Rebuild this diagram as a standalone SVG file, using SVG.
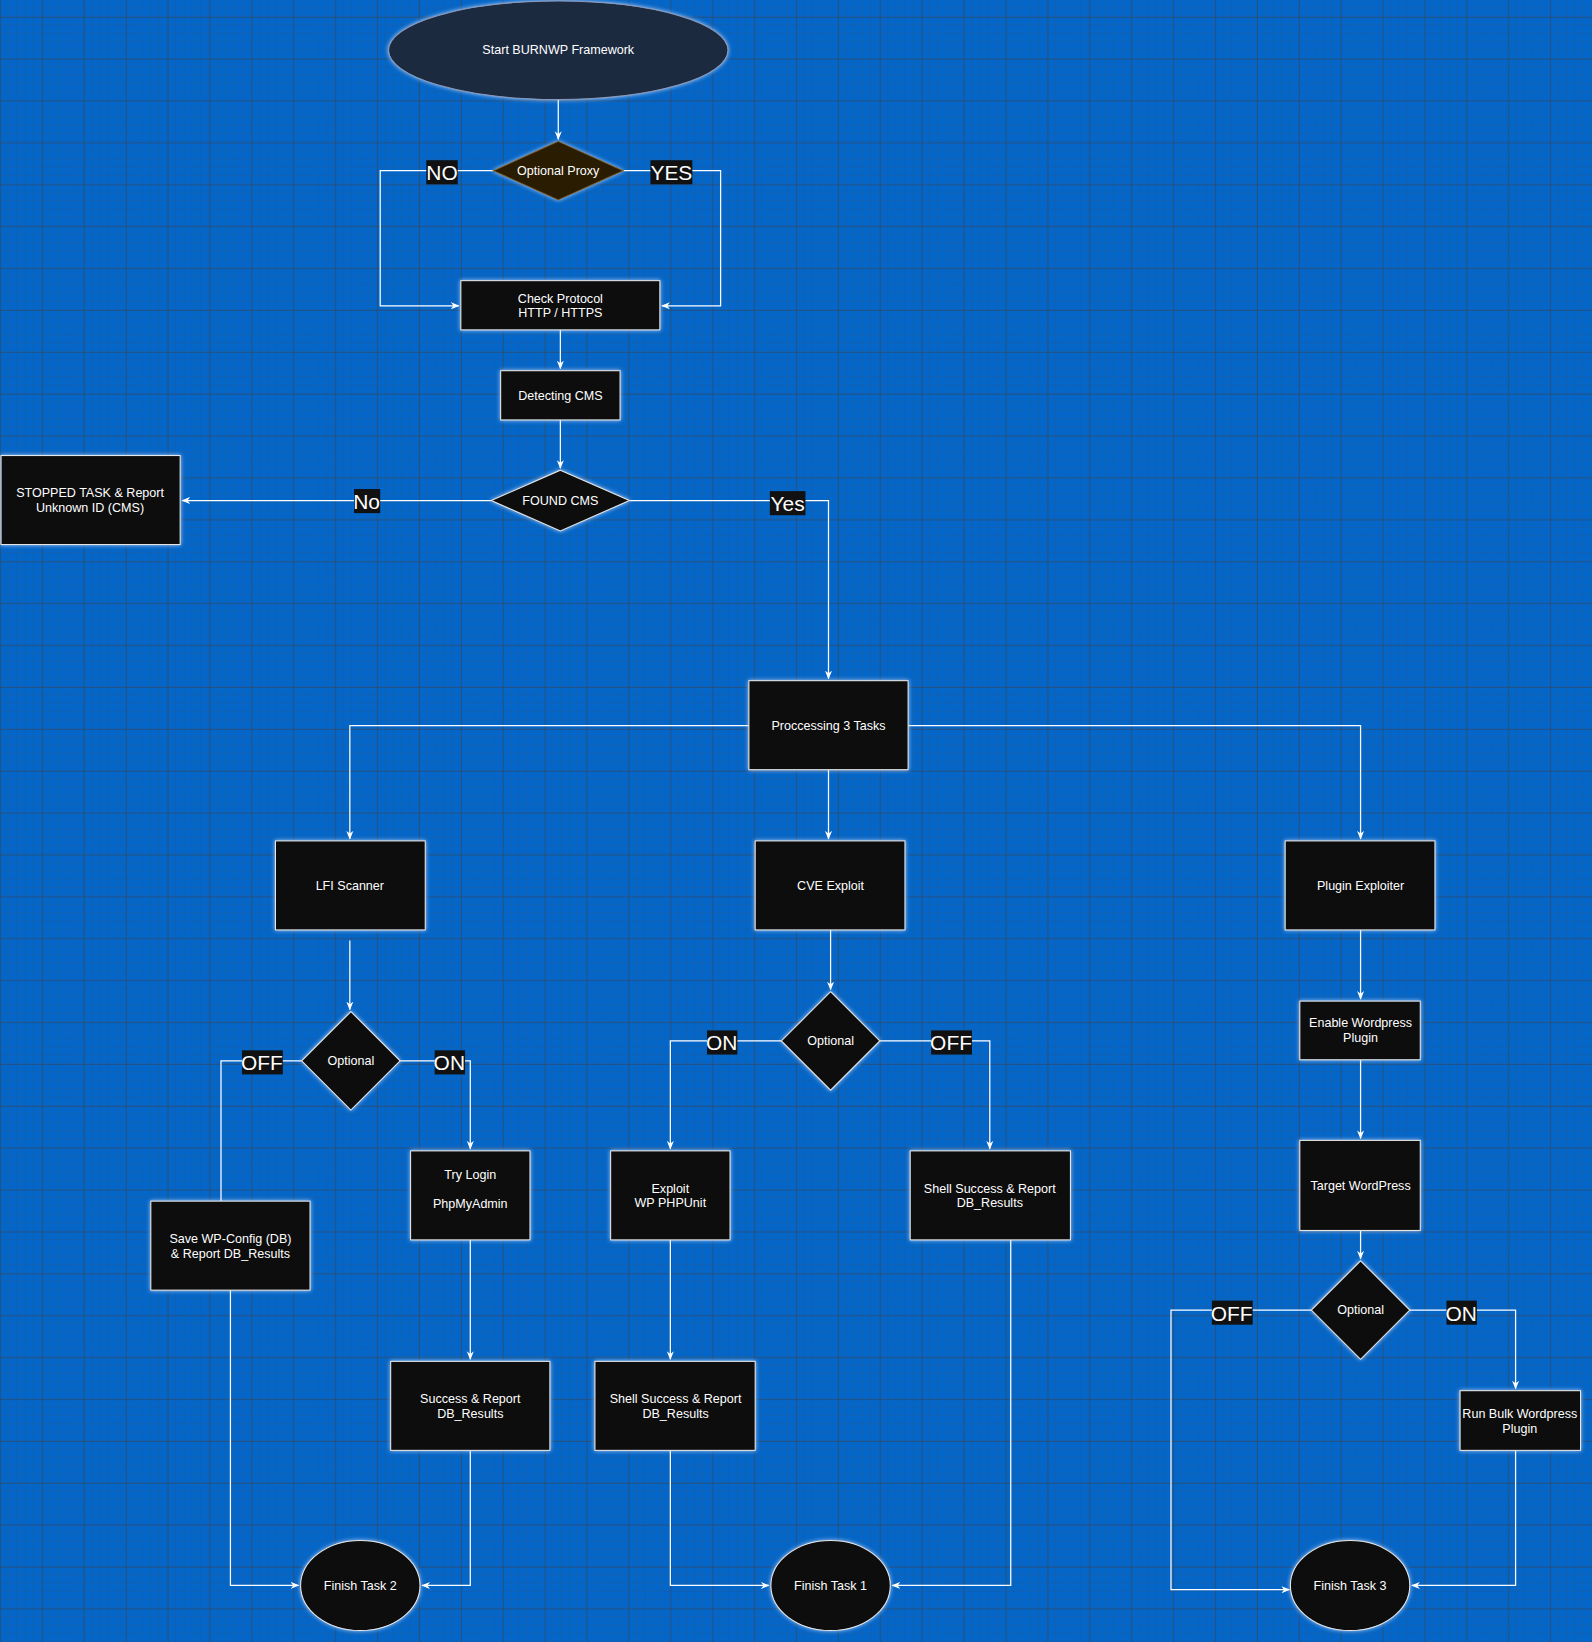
<svg xmlns="http://www.w3.org/2000/svg" width="1592" height="1642" viewBox="0 0 1592 1642">
<defs>
<pattern id="minor" width="8" height="8" patternUnits="userSpaceOnUse"><path d="M8 0V8H0" fill="none" stroke="#3a4f6a" stroke-width="0.4"/></pattern>
<pattern id="major" width="40" height="40" patternUnits="userSpaceOnUse" x="1" y="17"><path d="M40 0V40H0" fill="none" stroke="#3a3f48" stroke-width="0.9"/></pattern>
<marker id="a" viewBox="0 0 10 10" refX="9" refY="5" markerWidth="7" markerHeight="7" orient="auto"><path d="M0 1L10 5L0 9L3 5Z" fill="#fff"/></marker>
<filter id="g" x="-20%" y="-20%" width="140%" height="140%"><feDropShadow dx="0" dy="0" stdDeviation="2" flood-color="#cfe0ff" flood-opacity="0.8"/></filter>
</defs>
<style>
.n{fill:#111;stroke:#e8e8e8;stroke-width:1;filter:url(#g)}
.t{font-family:"Liberation Sans",Arial,sans-serif;font-size:12px;fill:#fff;text-anchor:middle}
.c path{fill:none;stroke:#fff;stroke-width:1.2}
.l rect{fill:#111}
.l text{font-family:"Liberation Sans",Arial,sans-serif;font-size:20px;fill:#fff;text-anchor:middle}
</style>
<rect width="1592" height="1642" fill="#0466c8"/>
<g transform="scale(1.0474,1.0472)">
<rect width="1520" height="1568" fill="url(#minor)"/>
<rect width="1520" height="1568" fill="url(#major)"/>
<g id="connectors" class="c">
<path d="M533 95V133" marker-end="url(#a)"/>
<path d="M471 163H363V292H438" marker-end="url(#a)"/>
<path d="M595 163H688V292H632" marker-end="url(#a)"/>
<path d="M535 315V352" marker-end="url(#a)"/>
<path d="M535 401V447" marker-end="url(#a)"/>
<path d="M469 478H174" marker-end="url(#a)"/>
<path d="M601 478H791V648" marker-end="url(#a)"/>
<path d="M715 693H334V801" marker-end="url(#a)"/>
<path d="M791 735V801" marker-end="url(#a)"/>
<path d="M867 693H1299V801" marker-end="url(#a)"/>
<path d="M334 898V964" marker-end="url(#a)"/>
<path d="M288 1013H211V1147"/>
<path d="M382 1013H449V1097" marker-end="url(#a)"/>
<path d="M449 1184V1298" marker-end="url(#a)"/>
<path d="M220 1232V1514H285" marker-end="url(#a)"/>
<path d="M449 1385V1514H403" marker-end="url(#a)"/>
<path d="M793 888V945" marker-end="url(#a)"/>
<path d="M746 994H640V1097" marker-end="url(#a)"/>
<path d="M840 994H945V1097" marker-end="url(#a)"/>
<path d="M640 1184V1298" marker-end="url(#a)"/>
<path d="M640 1385V1514H734" marker-end="url(#a)"/>
<path d="M965 1184V1514H852" marker-end="url(#a)"/>
<path d="M1299 888V954" marker-end="url(#a)"/>
<path d="M1299 1012V1087" marker-end="url(#a)"/>
<path d="M1299 1175V1202" marker-end="url(#a)"/>
<path d="M1252 1251H1118V1518H1231" marker-end="url(#a)"/>
<path d="M1346 1251H1447V1326" marker-end="url(#a)"/>
<path d="M1447 1385V1514H1348" marker-end="url(#a)"/>
</g>
<g class="l">
<rect x="407" y="153" width="30" height="23"/><text x="422" y="172">NO</text>
<rect x="621" y="153" width="40" height="23"/><text x="641" y="172">YES</text>
<rect x="338" y="467" width="25" height="23"/><text x="350" y="486">No</text>
<rect x="735" y="469" width="34" height="23"/><text x="752" y="488">Yes</text>
<rect x="231" y="1003" width="39" height="23"/><text x="250" y="1022">OFF</text>
<rect x="415" y="1003" width="29" height="23"/><text x="429" y="1022">ON</text>
<rect x="675" y="984" width="29" height="23"/><text x="689" y="1003">ON</text>
<rect x="889" y="984" width="39" height="23"/><text x="908" y="1003">OFF</text>
<rect x="1157" y="1242" width="39" height="23"/><text x="1176" y="1261">OFF</text>
<rect x="1381" y="1242" width="29" height="23"/><text x="1395" y="1261">ON</text>
</g>
<g id="start"><ellipse cx="533" cy="48" rx="162" ry="47" fill="#1e2940" stroke="#8899bb" style="filter:url(#g)"/><text class="t" x="533" y="52">Start BURNWP Framework</text></g>
<g id="proxy"><path d="M533 135L595 163L533 191L471 163Z" fill="#2b1f00" stroke="#7a5a10" style="filter:url(#g)"/><text class="t" x="533" y="167">Optional Proxy</text></g>
<g id="protocol"><rect class="n" x="440" y="268" width="190" height="47"/><text class="t" x="535" y="289">Check Protocol</text><text class="t" x="535" y="303">HTTP / HTTPS</text></g>
<g id="detect"><rect class="n" x="478" y="354" width="114" height="47"/><text class="t" x="535" y="382">Detecting CMS</text></g>
<g id="found"><path class="n" d="M535 449L601 478L535 507L469 478Z"/><text class="t" x="535" y="482">FOUND CMS</text></g>
<g id="stopped"><rect class="n" x="1" y="435" width="171" height="85"/><text class="t" x="86" y="475">STOPPED TASK &amp; Report</text><text class="t" x="86" y="489">Unknown ID (CMS)</text></g>
<g id="processing"><rect class="n" x="715" y="650" width="152" height="85"/><text class="t" x="791" y="697">Proccessing 3 Tasks</text></g>
<g id="lfi"><rect class="n" x="263" y="803" width="143" height="85"/><text class="t" x="334" y="850">LFI Scanner</text></g>
<g id="cve"><rect class="n" x="721" y="803" width="143" height="85"/><text class="t" x="793" y="850">CVE Exploit</text></g>
<g id="plugin"><rect class="n" x="1227" y="803" width="143" height="85"/><text class="t" x="1299" y="850">Plugin Exploiter</text></g>
<g id="opt1"><path class="n" d="M335 966L382 1013L335 1060L288 1013Z"/><text class="t" x="335" y="1017">Optional</text></g>
<g id="opt2"><path class="n" d="M793 947L840 994L793 1041L746 994Z"/><text class="t" x="793" y="998">Optional</text></g>
<g id="opt3"><path class="n" d="M1299 1204L1346 1251L1299 1298L1252 1251Z"/><text class="t" x="1299" y="1255">Optional</text></g>
<g id="enable"><rect class="n" x="1241" y="956" width="115" height="56"/><text class="t" x="1299" y="981">Enable Wordpress</text><text class="t" x="1299" y="995">Plugin</text></g>
<g id="target"><rect class="n" x="1241" y="1089" width="115" height="86"/><text class="t" x="1299" y="1136">Target WordPress</text></g>
<g id="savewp"><rect class="n" x="144" y="1147" width="152" height="85"/><text class="t" x="220" y="1187">Save WP-Config (DB)</text><text class="t" x="220" y="1201">&amp; Report DB_Results</text></g>
<g id="trylogin"><rect class="n" x="392" y="1099" width="114" height="85"/><text class="t" x="449" y="1126">Try Login</text><text class="t" x="449" y="1154">PhpMyAdmin</text></g>
<g id="phpunit"><rect class="n" x="583" y="1099" width="114" height="85"/><text class="t" x="640" y="1139">Exploit</text><text class="t" x="640" y="1153">WP PHPUnit</text></g>
<g id="shell2"><rect class="n" x="869" y="1099" width="153" height="85"/><text class="t" x="945" y="1139">Shell Success &amp; Report</text><text class="t" x="945" y="1153">DB_Results</text></g>
<g id="success"><rect class="n" x="373" y="1300" width="152" height="85"/><text class="t" x="449" y="1340">Success &amp; Report</text><text class="t" x="449" y="1354">DB_Results</text></g>
<g id="shell1"><rect class="n" x="568" y="1300" width="153" height="85"/><text class="t" x="645" y="1340">Shell Success &amp; Report</text><text class="t" x="645" y="1354">DB_Results</text></g>
<g id="bulk"><rect class="n" x="1394" y="1328" width="115" height="57"/><text class="t" x="1451" y="1354">Run Bulk Wordpress</text><text class="t" x="1451" y="1368">Plugin</text></g>
<g id="fin2"><ellipse class="n" cx="344" cy="1514" rx="57" ry="43"/><text class="t" x="344" y="1518">Finish Task 2</text></g>
<g id="fin1"><ellipse class="n" cx="793" cy="1514" rx="57" ry="43"/><text class="t" x="793" y="1518">Finish Task 1</text></g>
<g id="fin3"><ellipse class="n" cx="1289" cy="1514" rx="57" ry="43"/><text class="t" x="1289" y="1518">Finish Task 3</text></g>
</g>
</svg>
